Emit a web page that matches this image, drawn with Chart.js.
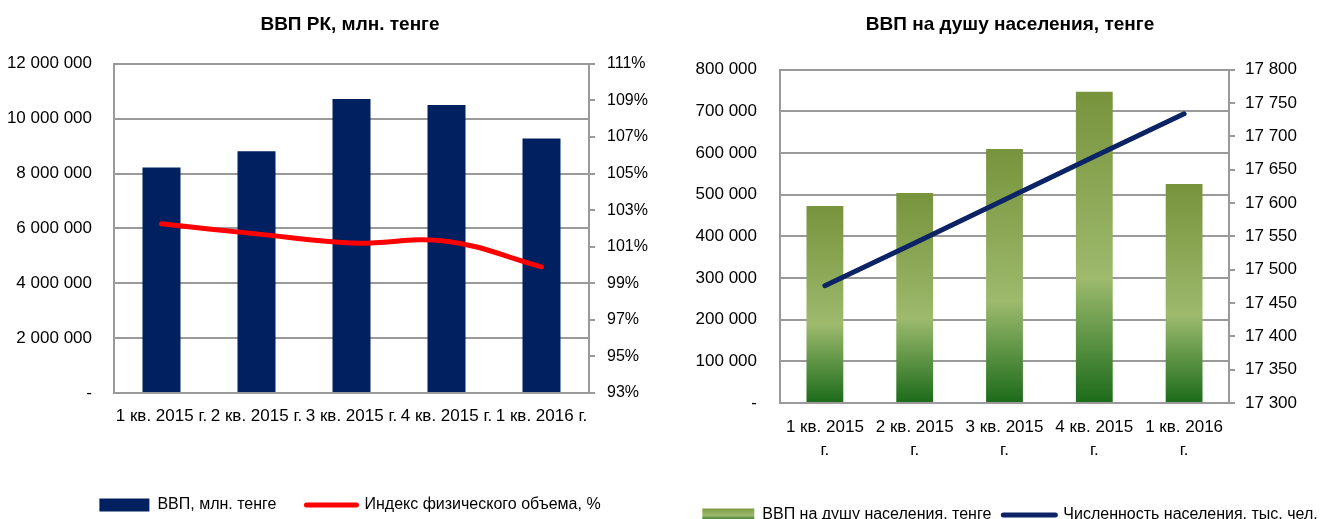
<!DOCTYPE html>
<html>
<head>
<meta charset="utf-8">
<script src="https://cdn.jsdelivr.net/npm/chart.js@4"></script>
<style>
  body { margin: 0; background: #fff; width: 1330px; height: 519px; overflow: hidden; position: relative; }
  .box { position: absolute; top: 0; }
  #leftBox { left: 0; width: 700px; height: 523px; }
  #rightBox { left: 690px; width: 640px; height: 533px; }
</style>
</head>
<body>
<div class="box" id="leftBox"><canvas id="gdpChart"></canvas></div>
<div class="box" id="rightBox"><canvas id="perCapitaChart"></canvas></div>
<script>
const quarters = ["1 кв. 2015 г.", "2 кв. 2015 г.", "3 кв. 2015 г.", "4 кв. 2015 г.", "1 кв. 2016 г."];
const quartersWrapped = [["1 кв. 2015", "г."], ["2 кв. 2015", "г."], ["3 кв. 2015", "г."], ["4 кв. 2015", "г."], ["1 кв. 2016", "г."]];

// ВВП, млн. тенге
const gdp = [8220000, 8810000, 10720000, 10500000, 9280000];
// Индекс физического объема, %
const volumeIndex = [102.25, 101.7, 101.2, 101.3, 99.9];

// ВВП на душу населения, тенге
const gdpPerCapita = [473000, 504000, 610000, 747000, 526000];
// Численность населения, тыс. чел.
const population = [17476, 17540, 17605, 17670, 17734];

const FONT = "'Liberation Sans', Arial, sans-serif";
const GRID = "#9a9a9a";

Chart.defaults.font.family = FONT;
Chart.defaults.color = "#000";
Chart.defaults.animation = false;

const spaced = (v) => (v === 0 ? "-" : String(v).replace(/\B(?=(\d{3})+(?!\d))/g, " "));

const gdpLegend = () => [
  { text: "ВВП, млн. тенге", fillStyle: "#002060", strokeStyle: "#002060", lineWidth: 0, pointStyle: "rect", datasetIndex: 0 },
  { text: "Индекс физического объема, %", fillStyle: "#ff0000", strokeStyle: "#ff0000", lineWidth: 5, lineCap: "round", pointStyle: "line", datasetIndex: 1 },
];

new Chart(document.getElementById("gdpChart"), {
  data: {
    labels: quarters,
    datasets: [
      {
        type: "line",
        label: "Индекс физического объема, %",
        data: volumeIndex,
        yAxisID: "y1",
        borderColor: "#ff0000",
        borderWidth: 5,
        borderCapStyle: "round",
        tension: 0.4,
        pointRadius: 0,
        order: 0,
      },
      {
        type: "bar",
        label: "ВВП, млн. тенге",
        data: gdp,
        yAxisID: "y",
        backgroundColor: "#002060",
        categoryPercentage: 1,
        barPercentage: 0.4,
        order: 1,
      },
    ],
  },
  options: {
    responsive: true,
    maintainAspectRatio: false,
    plugins: {
      title: {
        display: true,
        text: "ВВП РК, млн. тенге",
        font: { size: 19, weight: "bold" },
        color: "#000",
        padding: { top: 13, bottom: 28 },
      },
      legend: {
        position: "bottom",
        labels: {
          usePointStyle: true,
          pointStyleWidth: 50,
          boxWidth: 50,
          boxHeight: 13,
          padding: 30,
          font: { size: 16 },
          generateLabels: gdpLegend,
        },
      },
      tooltip: { enabled: false },
    },
    scales: {
      x: {
        grid: { display: false, drawTicks: false },
        border: { color: GRID, width: 2 },
        ticks: { autoSkip: false, maxRotation: 0, font: { size: 17 }, padding: 13 },
        afterFit: (s) => { s.height = 74; },
      },
      y: {
        position: "left",
        min: 0,
        max: 12000000,
        ticks: { stepSize: 2000000, callback: spaced, font: { size: 17 }, padding: 22 },
        grid: { color: GRID, lineWidth: 2, drawTicks: false },
        border: { color: GRID, width: 2 },
        afterFit: (s) => { s.width = 114; },
      },
      y1: {
        position: "right",
        min: 93,
        max: 111,
        ticks: { stepSize: 2, callback: (v) => v + "%", font: { size: 16 }, padding: 12 },
        grid: { drawOnChartArea: false, color: GRID, lineWidth: 2, tickLength: 6 },
        border: { color: GRID, width: 2 },
        afterFit: (s) => { s.width = 111; },
      },
    },
  },
});

const barGradient = (c) => {
  const chart = c.chart;
  if (!chart.chartArea || c.type !== "data") return "#7a963f";
  const yScale = chart.scales.y;
  const top = yScale.getPixelForValue(c.raw);
  const base = yScale.getPixelForValue(0);
  const g = chart.ctx.createLinearGradient(0, top, 0, base);
  g.addColorStop(0, "#77933c");
  g.addColorStop(0.6, "#9dba6d");
  g.addColorStop(1, "#1b6b1a");
  return g;
};

const perCapitaLegend = (chart) => {
  const g = chart.ctx.createLinearGradient(0, 507, 0, 521);
  g.addColorStop(0, "#77933c");
  g.addColorStop(0.6, "#9dba6d");
  g.addColorStop(1, "#1b6b1a");
  return [
    { text: "ВВП на душу населения, тенге", fillStyle: g, strokeStyle: g, lineWidth: 0, pointStyle: "rect", datasetIndex: 0 },
    { text: "Численность населения, тыс. чел.", fillStyle: "#0c2466", strokeStyle: "#0c2466", lineWidth: 5, lineCap: "round", pointStyle: "line", datasetIndex: 1 },
  ];
};

new Chart(document.getElementById("perCapitaChart"), {
  data: {
    labels: quartersWrapped,
    datasets: [
      {
        type: "line",
        label: "Численность населения, тыс. чел.",
        data: population,
        yAxisID: "y1",
        borderColor: "#0c2466",
        borderWidth: 5,
        borderCapStyle: "round",
        tension: 0,
        pointRadius: 0,
        order: 0,
      },
      {
        type: "bar",
        label: "ВВП на душу населения, тенге",
        data: gdpPerCapita,
        yAxisID: "y",
        backgroundColor: barGradient,
        categoryPercentage: 1,
        barPercentage: 0.41,
        order: 1,
      },
    ],
  },
  options: {
    responsive: true,
    maintainAspectRatio: false,
    plugins: {
      title: {
        display: true,
        text: "ВВП на душу населения, тенге",
        font: { size: 19, weight: "bold" },
        color: "#000",
        padding: { top: 13, bottom: 34 },
      },
      legend: {
        position: "bottom",
        labels: {
          usePointStyle: true,
          pointStyleWidth: 52,
          boxWidth: 52,
          boxHeight: 13,
          padding: 12,
          font: { size: 16 },
          generateLabels: perCapitaLegend,
        },
      },
      tooltip: { enabled: false },
    },
    scales: {
      x: {
        grid: { display: false, drawTicks: false },
        border: { color: GRID, width: 2 },
        ticks: { autoSkip: false, maxRotation: 0, font: { size: 17, lineHeight: 1.4 }, padding: 12 },
        afterFit: (s) => { s.height = 92; },
      },
      y: {
        position: "left",
        min: 0,
        max: 800000,
        ticks: { stepSize: 100000, callback: spaced, font: { size: 17 }, padding: 23 },
        grid: { color: GRID, lineWidth: 2, drawTicks: false },
        border: { color: GRID, width: 2 },
        afterFit: (s) => { s.width = 90; },
      },
      y1: {
        position: "right",
        min: 17300,
        max: 17800,
        ticks: { stepSize: 50, callback: spaced, font: { size: 17 }, padding: 10 },
        grid: { drawOnChartArea: false, color: GRID, lineWidth: 2, tickLength: 6 },
        border: { color: GRID, width: 2 },
        afterFit: (s) => { s.width = 101; },
      },
    },
  },
});
</script>
</body>
</html>
